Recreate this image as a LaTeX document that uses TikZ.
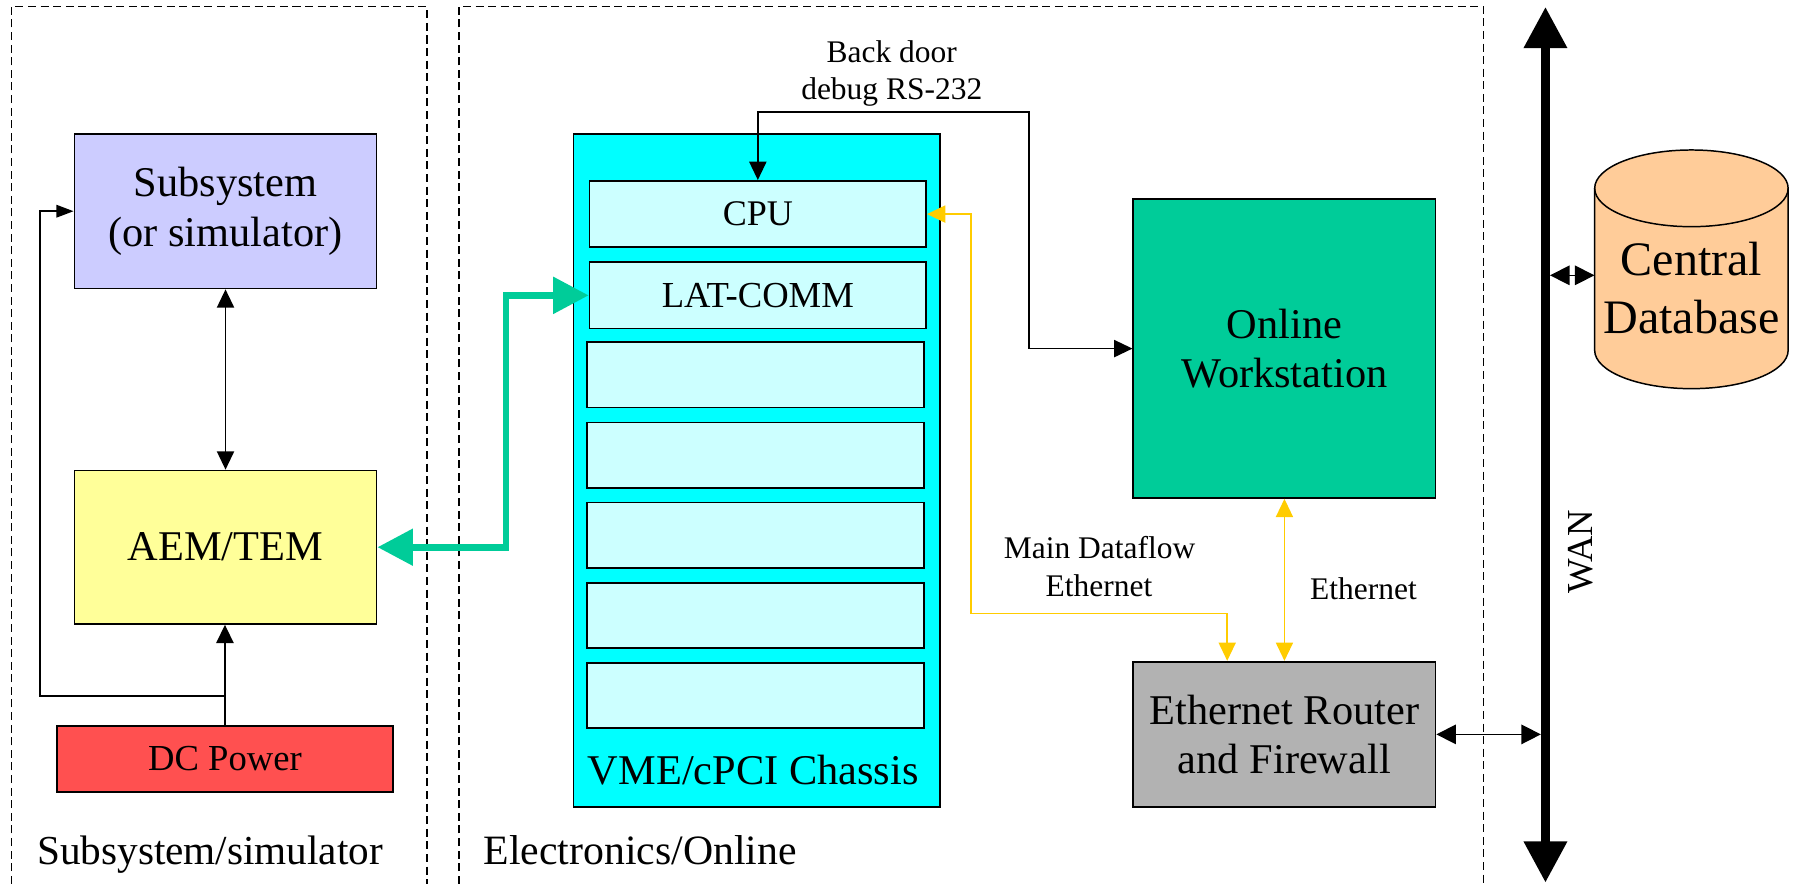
\documentclass[tikz,border=0pt]{standalone}
\usepackage{fontspec}
\setmainfont{Liberation Serif}
\usetikzlibrary{arrows.meta,calc}

\definecolor{subfill}{HTML}{CCCCFF}
\definecolor{aemfill}{HTML}{FFFF99}
\definecolor{dcfill}{HTML}{FF5050}
\definecolor{chassisfill}{HTML}{00FFFF}
\definecolor{slotfill}{HTML}{CCFFFF}
\definecolor{wsfill}{HTML}{00CC99}
\definecolor{routerfill}{HTML}{B2B2B2}
\definecolor{dbfill}{HTML}{FFCC99}
\definecolor{lanyellow}{HTML}{FFCC00}
\definecolor{linkgreen}{HTML}{00CC99}

\newcommand{\fsz}[2]{\fontsize{#1}{#2}\selectfont}

\begin{document}
\begin{tikzpicture}[x=1pt,y=-1pt,
  box/.style={draw, line width=1.5pt, inner sep=0pt, align=center},
  panel/.style={draw, dash pattern=on 7pt off 4pt, line width=1.2pt},
  conn/.style={line width=1.3pt},
  big/.style={font=\fsz{37}{43}},
  small/.style={font=\fsz{27.5}{33}},
  tipA/.tip={Triangle[length=16pt,width=15pt]},
  tipS/.tip={Triangle[length=15pt,width=11pt]},
  tipG/.tip={Triangle[length=31pt,width=31pt]},
  tipW/.tip={Triangle[length=36pt,width=36pt]},
  tipR/.tip={Triangle[length=17pt,width=17pt]}
]
\useasboundingbox (0,0) rectangle (1568,772);

% dashed panels (open at the bottom)
\draw[panel] (10,772) -- (10,5.5) -- (373,5.5) -- (373,772);
\draw[panel] (401,772) -- (401,5.5) -- (1296,5.5) -- (1296,772);
\node[anchor=base west, font=\fsz{36}{43}] (lblsub) at (29,755.5) {Subsystem/simulator};
\node[anchor=base west, font=\fsz{36.5}{43}] (lblelec) at (419,755.5) {Electronics/Online};

% subsystem side
\node[box, big, fill=subfill, minimum width=264pt, minimum height=135pt] (sub) at (197,184.5) {Subsystem\\(or simulator)};
\node[box, big, fill=aemfill, minimum width=264pt, minimum height=134pt] (aem) at (197,478) {AEM/TEM};
\node[box, fill=dcfill, font=\fsz{32}{36}, minimum width=294pt, minimum height=58pt] (dc) at (196.5,663) {DC Power};

% crate with its boards
\node[box, fill=chassisfill, minimum width=320pt, minimum height=588pt] (chassis) at (661,411) {};
\node[box, fill=slotfill, font=\fsz{31.5}{36}, minimum width=294pt, minimum height=58pt] (cpu) at (662,187) {CPU};
\node[box, fill=slotfill, font=\fsz{32}{36}, minimum width=294pt, minimum height=58pt] (lat) at (662,258) {LAT-COMM};
\foreach \i/\yy in {1/327.5,2/397.5,3/467.5,4/537.5,5/607.5}
  \node[box, fill=slotfill, minimum width=294pt, minimum height=57pt] (slot\i) at (660,\yy) {};
\node[big, anchor=base] (chassislbl) at (658,685) {VME/cPCI Chassis};

% online side
\node[box, big, fill=wsfill, minimum width=264pt, minimum height=261pt] (ws) at (1122,304.5) {Online\\Workstation};
\node[box, big, fill=routerfill, minimum width=264pt, minimum height=127pt] (rt) at (1122,641.5) {Ethernet Router\\and Firewall};

% central database cylinder
\filldraw[fill=dbfill, line width=1.3pt]
  (1393,164.5) -- (1393,306)
  arc[start angle=180, end angle=360, x radius=84.5pt, y radius=33.5pt]
  -- (1562,164.5)
  arc[start angle=0, end angle=180, x radius=84.5pt, y radius=33.5pt] -- cycle;
\draw[line width=1.3pt] (1393,164.5)
  arc[start angle=180, end angle=360, x radius=84.5pt, y radius=33.5pt];
\node[inner sep=0pt, align=center, font=\fsz{42}{50}, minimum width=169pt] (db) at (1477.5,251.6) {Central\\Database};

% WAN backbone
\coordinate (wanT) at (1350,6);
\coordinate (wanB) at (1350,771);
\coordinate (wanedgeL) at (1346,0);
\coordinate (wanedgeR) at (1354,0);
\draw[line width=8pt, {tipW}-{tipW}] (wanB) -- (wanT);
\node[rotate=90, font=\fsz{32}{36}] (wanlbl) at (1381,482) {WAN};

% connectors on the subsystem side
\draw[conn, {tipA}-{tipA}] (sub.south) -- (aem.north);
\draw[line width=1.8pt, -{tipA}] (dc.north) -- (dc.north |- aem.south);
\coordinate (loopcorner) at (35,608);
\draw[conn, -{tipS}] (dc.north |- loopcorner) -- (loopcorner) |- (sub.west);

% readout link
\coordinate (gbend) at (442,0);
\draw[linkgreen, line width=6pt, {tipG}-{tipG}] (aem.east) -| (gbend |- lat.west) -- (lat.west);

% serial debug line
\coordinate (rs) at (899,98);
\draw[conn, {tipA}-{tipA}] (cpu.north) |- (rs) |- (ws.west);
\node[small, anchor=base] (bd1) at (779,55) {Back door};
\node[small, anchor=base] (bd2) at (779,87) {debug RS-232};

% ethernet
\coordinate (y1) at (848,536);
\draw[lanyellow, conn, {tipA}-{tipA}] (cpu.east) -| (y1) -| ([xshift=-50pt]rt.north);
\draw[lanyellow, conn, {tipA}-{tipA}] (ws.south) -- (rt.north);
\node[small, anchor=base] (mdf1) at (960.5,488) {Main Dataflow};
\node[small, anchor=base] (mdf2) at (960,521) {Ethernet};
\node[small, anchor=base] (eth) at (1191,524) {Ethernet};

% WAN taps
\draw[conn, {tipR}-{tipR}] (rt.east) -- (wanedgeL |- rt.east);
\draw[conn, {tipR}-{tipR}] (wanedgeR |- 0,240.5) -- ([yshift=11.1pt]db.west);
\end{tikzpicture}
\end{document}
